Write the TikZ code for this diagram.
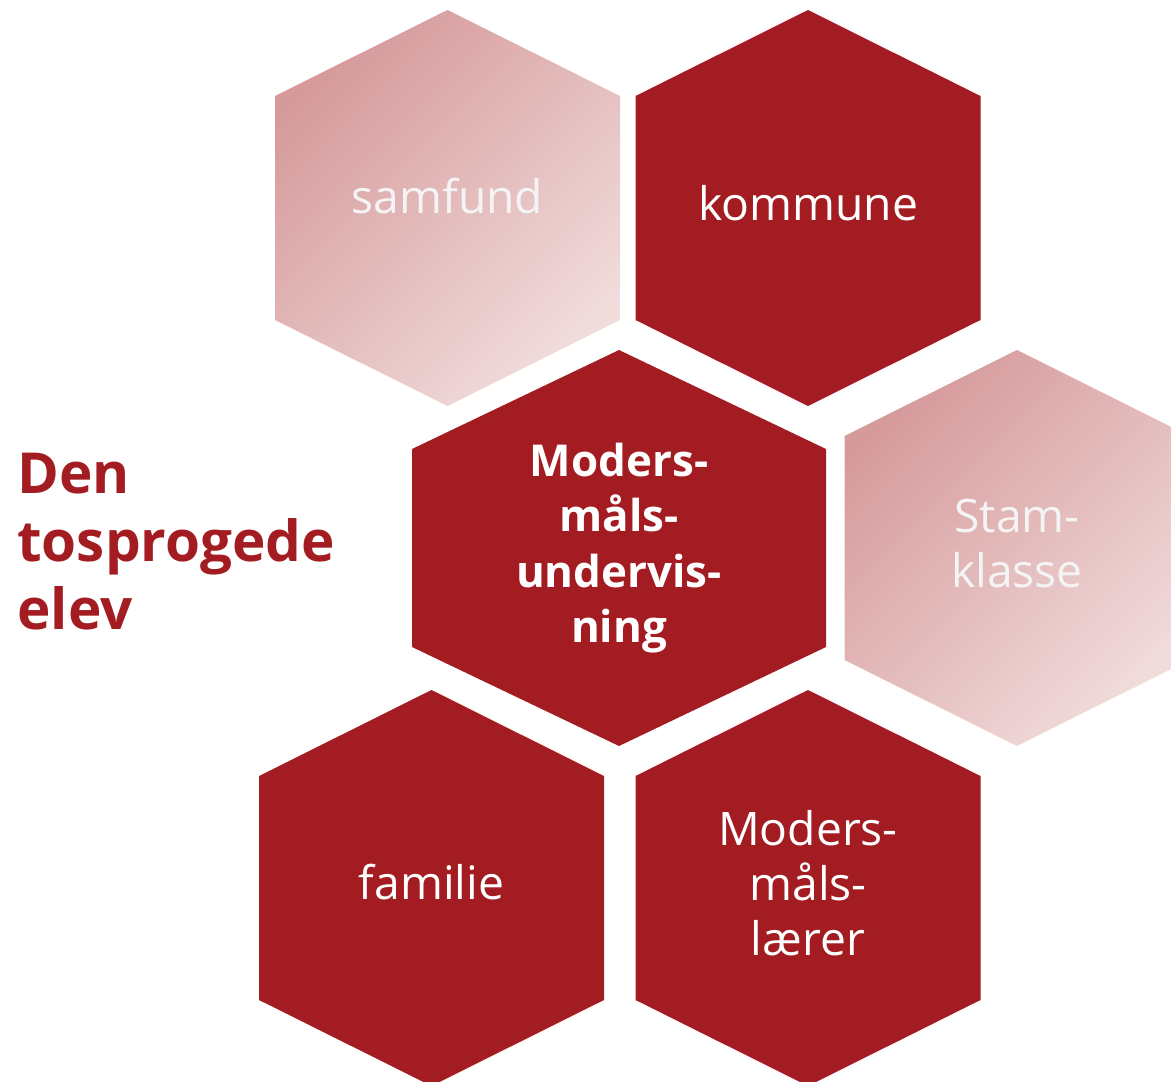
\documentclass[tikz,border=0pt]{standalone}
\usepackage{fontspec}
\setmainfont{Open Sans}
\definecolor{hexred}{HTML}{A31C21}
\definecolor{hexpinkA}{HTML}{D69A9B}
\definecolor{hexpinkB}{HTML}{F1DCDC}
\definecolor{hexwhite}{HTML}{F4F4F4}
\tikzset{
  darkhex/.style={fill=hexred},
  lighthex/.style={top color=hexpinkA, bottom color=hexpinkB, shading angle=45},
  hexlabel/.style={text=white, align=center, inner sep=0pt, font=\fontsize{26.3}{31.3}\selectfont},
  corelabel/.style={text=white, align=center, inner sep=0pt, font=\fontsize{25}{31.5}\selectfont\bfseries},
  titlelabel/.style={text=hexred, align=left, inner sep=0pt, anchor=west, font=\fontsize{32.2}{38.7}\selectfont\bfseries}
}
\begin{document}
\begin{tikzpicture}[x=0.02cm, y=-0.02cm]
  \useasboundingbox (0,0) rectangle (1171,1082);
  \clip (0,0) rectangle (1171,1082);
  \foreach \cx/\cy in {808/208, 431.5/888, 808/888}
    \path[darkhex] (\cx,\cy-198) -- (\cx+172.5,\cy-112) -- (\cx+172.5,\cy+112)
      -- (\cx,\cy+198) -- (\cx-172.5,\cy+112) -- (\cx-172.5,\cy-112) -- cycle;
  \foreach \cx/\cy in {447.5/208, 1017/548}
    \path[lighthex] (\cx,\cy-198) -- (\cx+172.5,\cy-112) -- (\cx+172.5,\cy+112)
      -- (\cx,\cy+198) -- (\cx-172.5,\cy+112) -- (\cx-172.5,\cy-112) -- cycle;
  \path[darkhex] (619,350) -- (826,449) -- (826,647) -- (619,746)
    -- (412,647) -- (412,449) -- cycle;
  \node[hexlabel, text=hexwhite] (samfund) at (447.5,196) {samfund};
  \node[hexlabel] (kommune) at (808,203) {kommune};
  \node[hexlabel, text=hexwhite] (stamklasse) at (1017,543) {Stam-\\klasse};
  \node[corelabel] (undervisning) at (619,548) {Moders-\\måls-\\undervis-\\ning};
  \node[hexlabel] (familie) at (431.5,882) {familie};
  \node[hexlabel] (laerer) at (808,883) {Moders-\\måls-\\lærer};
  \node[titlelabel] (elev) at (17,542) {Den\\tosprogede\\elev};
\end{tikzpicture}
\end{document}
